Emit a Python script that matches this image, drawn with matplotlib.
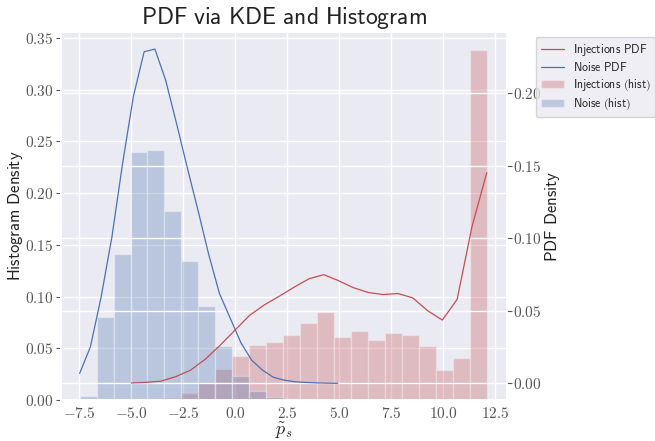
import numpy as np
import matplotlib
matplotlib.use("Agg")
import matplotlib.pyplot as plt
from matplotlib.ticker import FuncFormatter
import seaborn as sns

# histogram bins (shared by both samples)
bin_edges = np.linspace(-7.49, 12.1, 25)

noise_hist = [0.0042, 0.0806, 0.1416, 0.2400, 0.2413, 0.1832, 0.1348, 0.0912,
              0.0525, 0.0232, 0.0087, 0.0032, 0.0010, 0.0003, 0.0, 0.0,
              0.0, 0.0, 0.0, 0.0, 0.0, 0.0, 0.0, 0.0]
inj_hist = [0.0, 0.0, 0.0, 0.0, 0.0005, 0.0024, 0.0072, 0.0170,
            0.0295, 0.0429, 0.0532, 0.0564, 0.0629, 0.0742, 0.0852, 0.0613,
            0.0671, 0.0580, 0.0645, 0.0626, 0.0520, 0.0293, 0.0409, 0.3387]

# KDE evaluation grids
noise_x = np.linspace(-7.49, 4.93, 25)
noise_pdf = [0.0069, 0.0252, 0.0597, 0.1010, 0.1520, 0.1980, 0.2287, 0.2305,
             0.2090, 0.1795, 0.1490, 0.1195, 0.0890, 0.0620, 0.0450, 0.0280,
             0.0160, 0.0092, 0.0043, 0.0023, 0.0012, 0.0007, 0.0004, 0.0002,
             0.0001]
inj_x = np.linspace(-5.0, 12.1, 25)
inj_pdf = [0.0003, 0.0008, 0.0016, 0.0047, 0.0092, 0.0168, 0.0264, 0.0368,
           0.0471, 0.0543, 0.0602, 0.0664, 0.0722, 0.0750, 0.0708, 0.0660,
           0.0627, 0.0613, 0.0620, 0.0590, 0.0502, 0.0437, 0.0580, 0.1080,
           0.1453]

sns.set_theme(style="darkgrid")
plt.rcParams["mathtext.fontset"] = "cm"

red = "#C44E52"
blue = "#4C72B0"

def sf(s):
    return r"$\mathsf{" + s.replace(" ", r"\ ") + "}$"

fig = plt.figure(figsize=(6.55, 4.41), dpi=100)
ax = fig.add_axes([0.0924, 0.093, 0.6812, 0.8338])
ax2 = ax.twinx()

widths = np.diff(bin_edges)
h1 = ax.bar(bin_edges[:-1], inj_hist, width=widths, align="edge", color=red,
            alpha=0.3, edgecolor="white", linewidth=1, label=sf("Injections (hist)"))
h2 = ax.bar(bin_edges[:-1], noise_hist, width=widths, align="edge", color=blue,
            alpha=0.3, edgecolor="white", linewidth=1, label=sf("Noise (hist)"))

l1, = ax2.plot(inj_x, inj_pdf, color=red, lw=0.9, label=sf("Injections PDF"))
l2, = ax2.plot(noise_x, noise_pdf, color=blue, lw=0.9, label=sf("Noise PDF"))

ax.set_ylim(0, 0.3556)
ax2.set_ylim(-0.0114, 0.2421)
ax.set_xlim(-8.41, 13.06)

ax.xaxis.set_major_formatter(FuncFormatter(lambda v, p: f"${v:.1f}$"))
ax.yaxis.set_major_formatter(FuncFormatter(lambda v, p: f"${v:.2f}$"))
ax2.yaxis.set_major_formatter(FuncFormatter(lambda v, p: f"${v:.2f}$"))
ax.set_yticks(np.arange(0, 0.351, 0.05))
ax2.set_yticks(np.arange(0, 0.201, 0.05))
ax.set_xticks(np.arange(-7.5, 12.6, 2.5))

for a in (ax, ax2):
    a.tick_params(axis="both", labelsize=11, colors="#555555", length=3.5,
                  width=0.8, pad=1.5)
    a.tick_params(axis="x", length=0, pad=4)
ax.tick_params(axis="y", left=True)
ax2.tick_params(axis="y", right=True, pad=1)

ax.set_title(sf("PDF via KDE and Histogram"), fontsize=17, color="#222222")
ax.set_xlabel(r"$\tilde{p}_s$", fontsize=13, labelpad=0)
ax.set_ylabel(sf("Histogram Density"), fontsize=12, color="#222222", labelpad=0)
ax2.set_ylabel(sf("PDF Density"), fontsize=12, color="#222222", labelpad=1)

fig.legend(handles=[l1, l2, h1, h2], loc="upper left",
           bbox_to_anchor=(536 / 655, 1 - 37 / 441), borderaxespad=0,
           fontsize=8.5, labelspacing=0.3, handletextpad=0.7,
           frameon=True, facecolor="#EAEAF2", edgecolor="#CCCCCC")

fig.savefig("out.png", dpi=100)
